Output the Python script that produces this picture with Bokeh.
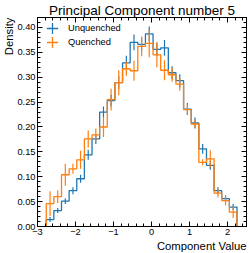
import numpy as np
from bokeh.plotting import figure
from bokeh.models import (LinearAxis, Range1d, FixedTicker, Title, Legend, LegendItem,
                          PrintfTickFormatter, ColumnDataSource)
from bokeh.embed import file_html
from bokeh.resources import INLINE

# ---- data ----
bin_lo = -2.77
bin_hi = 2.25
n_bins = 25

unquenched_vals = [0.014, 0.032, 0.051, 0.072, 0.096, 0.144, 0.176, 0.230, 0.253, 0.289,
                   0.329, 0.370, 0.366, 0.387, 0.356, 0.359, 0.309, 0.293, 0.236, 0.208,
                   0.156, 0.123, 0.072, 0.056, 0.039]
unquenched_err = [0.005, 0.005, 0.006, 0.007, 0.008, 0.010, 0.010, 0.011, 0.012, 0.013,
                  0.014, 0.016, 0.014, 0.015, 0.014, 0.016, 0.013, 0.013, 0.012, 0.011,
                  0.010, 0.009, 0.007, 0.007, 0.006]
quenched_vals = [0.046, 0.060, 0.104, 0.116, 0.134, 0.176, 0.184, 0.200, 0.255, 0.289,
                 0.317, 0.313, 0.362, 0.368, 0.345, 0.314, 0.305, 0.286, 0.235, 0.206,
                 0.129, 0.136, 0.067, 0.052, 0.029]
quenched_err = [0.025, 0.013, 0.022, 0.010, 0.018, 0.017, 0.013, 0.020, 0.022, 0.025,
                0.014, 0.020, 0.020, 0.028, 0.025, 0.020, 0.014, 0.013, 0.010, 0.008,
                0.006, 0.017, 0.008, 0.010, 0.012]

x_ticks = [-3, -2, -1, 0, 1, 2]
y_ticks = [0.0, 0.05, 0.10, 0.15, 0.20, 0.25, 0.30, 0.35, 0.40]

title_text = "Principal Component number 5"
x_label = "Component Value"
y_label = "Density"
series_names = ["Unquenched", "Quenched"]
colors = ["#1f77b4", "#ff7f0e"]

FONT = "Liberation Sans"

edges = np.linspace(bin_lo, bin_hi, n_bins + 1)
centers = 0.5 * (edges[:-1] + edges[1:])


def step_xy(vals):
    xs = np.repeat(edges, 2)
    ys = np.concatenate([[0.0], np.repeat(np.asarray(vals), 2), [0.0]])
    return xs, ys


p = figure(width=249, height=253, x_range=Range1d(-3, 2.5), y_range=Range1d(0, 0.42),
           output_backend="svg", toolbar_location=None, title=None,
           min_border_left=35, min_border_right=3, min_border_top=17, min_border_bottom=27)
p.grid.visible = False
p.outline_line_color = "black"
p.background_fill_color = "white"
p.border_fill_color = "white"

x_minor = np.round(np.arange(-3.0, 2.5001, 0.2), 3).tolist()
y_minor = np.round(np.arange(0.0, 0.4201, 0.01), 3).tolist()


def style_axis(ax, labels=True):
    ax.major_tick_in = 5
    ax.major_tick_out = 0
    ax.minor_tick_in = 3
    ax.minor_tick_out = 0
    ax.axis_line_color = "black"
    ax.major_tick_line_color = "black"
    ax.minor_tick_line_color = "black"
    if labels:
        ax.major_label_text_font = FONT
        ax.major_label_text_font_size = "9.3px"
        ax.major_label_text_color = "black"
        ax.major_label_standoff = 2
    else:
        ax.major_label_text_font_size = "1px"
        ax.major_label_text_color = None
        ax.major_label_standoff = 0


p.xaxis.ticker = FixedTicker(ticks=x_ticks, minor_ticks=x_minor)
p.yaxis.ticker = FixedTicker(ticks=y_ticks, minor_ticks=y_minor)
p.yaxis.formatter = PrintfTickFormatter(format="%.2f")
style_axis(p.xaxis[0])
style_axis(p.yaxis[0])

top_ax = LinearAxis(ticker=FixedTicker(ticks=x_ticks, minor_ticks=x_minor))
style_axis(top_ax, labels=False)
p.add_layout(top_ax, "above")
right_ax = LinearAxis(ticker=FixedTicker(ticks=y_ticks, minor_ticks=y_minor))
style_axis(right_ax, labels=False)
p.add_layout(right_ax, "right")

p.add_layout(Title(text=title_text, align="center", text_font=FONT, text_font_size="13.5px",
                   text_font_style="normal", text_color="black", standoff=0, offset=0), "above")
p.add_layout(Title(text=x_label, align="right", text_font=FONT, text_font_size="11.3px",
                   text_font_style="normal", text_color="black", standoff=0, offset=0), "below")
p.add_layout(Title(text=y_label, align="right", text_font=FONT, text_font_size="11.3px",
                   text_font_style="normal", text_color="black", standoff=0, offset=0), "left")

legend_renderers = []
for vals, errs, col in [(unquenched_vals, unquenched_err, colors[0]),
                        (quenched_vals, quenched_err, colors[1])]:
    xs, ys = step_xy(vals)
    p.line(xs, ys, line_color=col, line_width=1.3)
    v = np.asarray(vals)
    e = np.asarray(errs)
    src = ColumnDataSource(dict(x=centers, y0=v - e, y1=v + e, y=v))
    p.segment(x0="x", y0="y0", x1="x", y1="y1", source=src, line_color=col, line_width=1.2)
    # zero-size crosses at the bin centres: only their legend glyph is visible
    leg = p.scatter(x="x", y="y", source=src, marker="cross", line_color=col,
                    line_width=1.3, size=0)
    legend_renderers.append(leg)

legend_tops = [184, 170]
for i in range(2):
    lg = Legend(items=[LegendItem(label=series_names[i], renderers=[legend_renderers[i]])],
                location=(1, legend_tops[i]), glyph_width=28, glyph_height=28, label_height=28,
                spacing=0, padding=0, margin=0, label_standoff=2,
                label_text_font=FONT, label_text_font_size="9.3px", label_text_color="black",
                border_line_color=None, background_fill_alpha=0)
    p.add_layout(lg)

open("out.html", "w").write(file_html(p, INLINE))
